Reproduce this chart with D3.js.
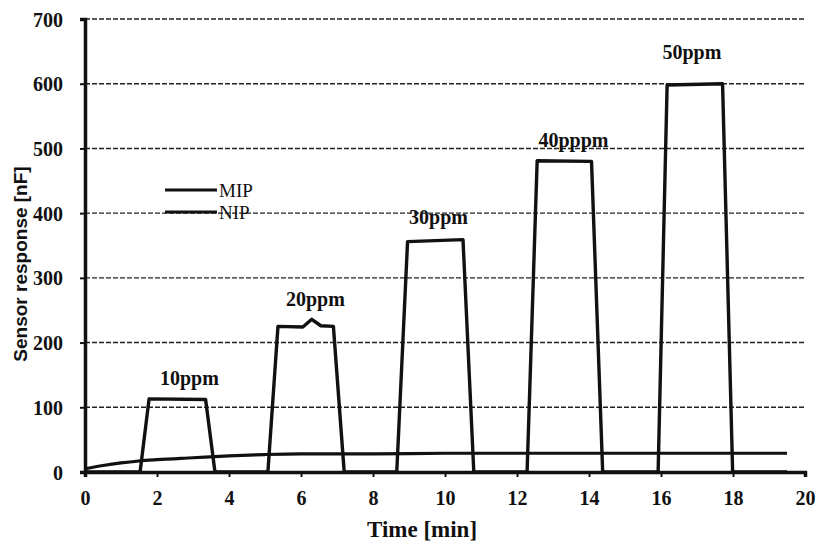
<!DOCTYPE html>
<html>
<head>
<meta charset="utf-8">
<script src="https://cdn.jsdelivr.net/npm/d3@7"></script>
<style>
  body { margin: 0; background: #fff; }
  svg { display: block; }
  .tick text { font-family: "Liberation Serif", serif; font-weight: bold; font-size: 20px; fill: #111; }
</style>
</head>
<body>
<svg id="chart" width="818" height="546"></svg>
<script>
// MIP sensor: step pulses (time [min], response [nF])
const mipTime = [0, 1.53, 1.78, 3.35, 3.61, 5.08, 5.36, 6.05, 6.3, 6.55, 6.9, 7.2, 8.66, 8.96, 10.5, 10.8, 12.28, 12.56, 14.07, 14.38, 15.92, 16.17, 17.71, 17.99, 19.5];
const mipValue = [0, 0, 113, 112, 0, 0, 225, 224, 236, 226, 225, 0, 0, 356, 359, 0, 0, 481, 480, 0, 0, 598, 600, 0, 0];
// NIP sensor: slow drift
const nipTime = [0, 0.5, 1, 1.5, 2, 3, 4, 5, 6, 8, 10, 12, 14, 16, 18, 19.5];
const nipValue = [5, 10, 14, 17, 19, 22, 25, 27, 28, 28, 29, 29, 29, 29, 29, 29];
// concentration labels
const labelText = ['10ppm', '20ppm', '30ppm', '40pppm', '50ppm'];
const labelTime = [2.9, 6.4, 9.82, 13.57, 16.86];
const labelValue = [135, 256, 383, 502, 638];
const xTicks = [0, 2, 4, 6, 8, 10, 12, 14, 16, 18, 20];
const yTicks = [0, 100, 200, 300, 400, 500, 600, 700];

const svg = d3.select('#chart');
const mLeft = 85, mRight = 805, mTop = 19, mBottom = 472;

const x = d3.scaleLinear().domain([0, 20]).range([mLeft, mRight]);
const y = d3.scaleLinear().domain([0, 700]).range([mBottom, mTop]);

// dashed grid
svg.append('g')
  .selectAll('line')
  .data(yTicks.filter(d => d > 0))
  .enter()
  .append('line')
  .attr('x1', x(0)).attr('x2', x(20))
  .attr('y1', d => y(d)).attr('y2', d => y(d))
  .attr('stroke', '#222')
  .attr('stroke-width', 1.4)
  .attr('stroke-dasharray', '5,2');

const xAxis = d3.axisBottom(x).tickValues(xTicks).tickSize(5).tickPadding(14).tickFormat(d3.format('d'));
const yAxis = d3.axisLeft(y).tickValues(yTicks).tickSize(5).tickPadding(17);

const xg = svg.append('g').attr('transform', `translate(0,${mBottom})`).call(xAxis);
const yg = svg.append('g').attr('transform', `translate(${mLeft},0)`).call(yAxis);
[xg, yg].forEach(g => {
  g.select('.domain').attr('stroke', '#111').attr('stroke-width', 3.5);
  g.selectAll('.tick line').attr('stroke', '#111').attr('stroke-width', 2);
});
yg.selectAll('.tick text').attr('dy', '0.35em');

const line = d3.line().x(d => x(d[0])).y(d => y(d[1]));

svg.append('path')
  .datum(nipTime.map((t, i) => [t, nipValue[i]]))
  .attr('d', line.curve(d3.curveMonotoneX))
  .attr('fill', 'none').attr('stroke', '#111').attr('stroke-width', 3.2);

svg.append('path')
  .datum(mipTime.map((t, i) => [t, mipValue[i]]))
  .attr('d', line.curve(d3.curveLinear))
  .attr('fill', 'none').attr('stroke', '#111').attr('stroke-width', 3.4)
  .attr('stroke-linejoin', 'round');

// concentration labels
svg.append('g')
  .selectAll('text')
  .data(labelText)
  .enter()
  .append('text')
  .attr('x', (d, i) => x(labelTime[i]))
  .attr('y', (d, i) => y(labelValue[i]))
  .attr('text-anchor', 'middle')
  .style('font-family', '"Liberation Serif", serif')
  .style('font-weight', 'bold')
  .style('font-size', '20px')
  .attr('fill', '#111')
  .text(d => d);

// legend
const legend = svg.append('g');
[['MIP', 190], ['NIP', 212]].forEach(([name, ly]) => {
  legend.append('line')
    .attr('x1', 165).attr('x2', 217).attr('y1', ly).attr('y2', ly)
    .attr('stroke', '#111').attr('stroke-width', 3.2);
  legend.append('text')
    .attr('x', 219).attr('y', ly + 7)
    .style('font-family', '"Liberation Serif", serif')
    .style('font-size', '19px')
    .attr('fill', '#111')
    .text(name);
});

// axis titles
svg.append('text')
  .attr('transform', `translate(27,264) rotate(-90)`)
  .attr('text-anchor', 'middle')
  .style('font-family', '"Liberation Sans", sans-serif')
  .style('font-weight', 'bold')
  .style('font-size', '19px')
  .attr('fill', '#111')
  .text('Sensor response [nF]');

svg.append('text')
  .attr('x', 422).attr('y', 537)
  .attr('text-anchor', 'middle')
  .style('font-family', '"Liberation Serif", serif')
  .style('font-weight', 'bold')
  .style('font-size', '23px')
  .attr('fill', '#111')
  .text('Time [min]');
</script>
</body>
</html>
